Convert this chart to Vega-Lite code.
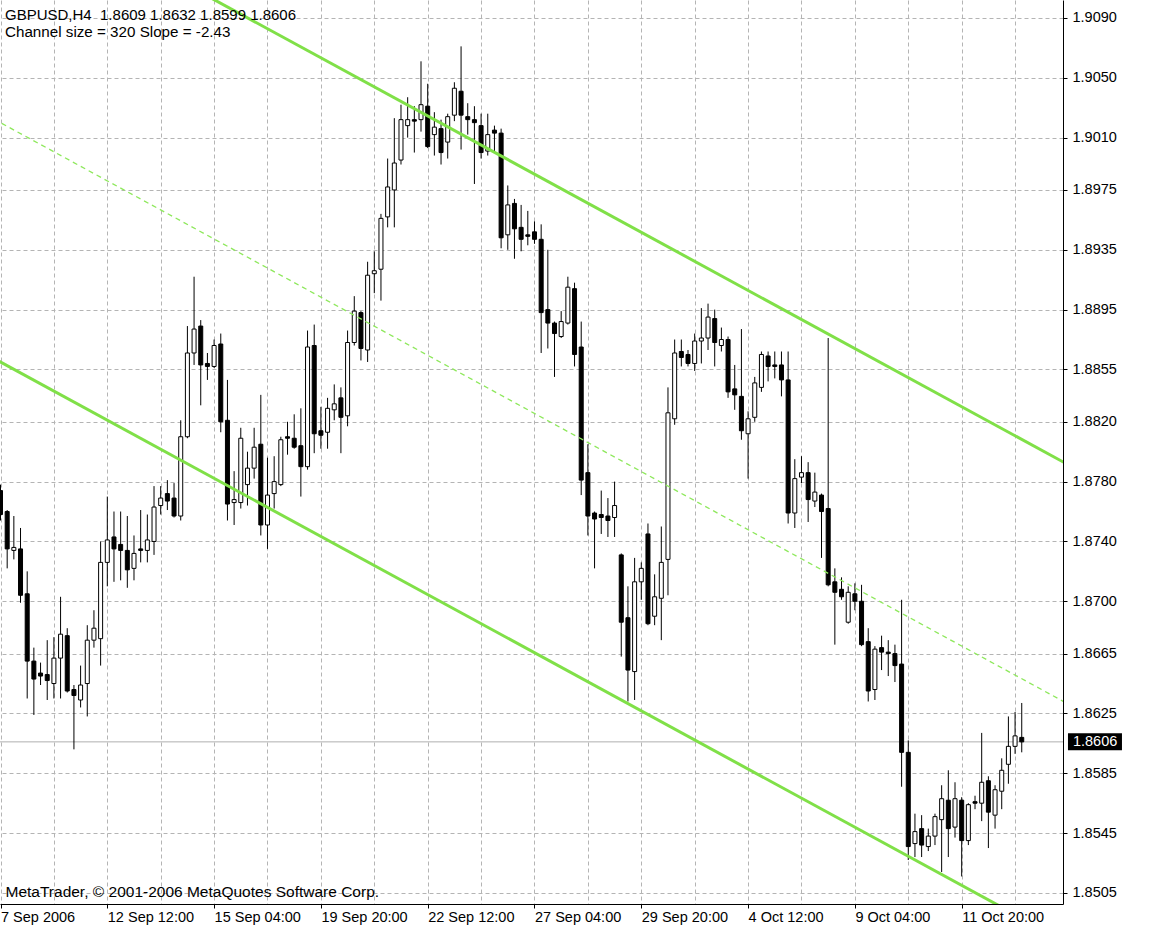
{
"$schema": "https://vega.github.io/schema/vega-lite/v6.json",
"width": 1063, "height": 904,
"autosize": {"type": "none"},
"padding": {"left": 0, "top": 0, "right": 98, "bottom": 42},
"background": "white",
"title": {"text": "GBPUSD,H4\u00a0 1.8609 1.8632 1.8599 1.8606", "subtitle": "Channel size = 320 Slope = -2.43", "anchor": "start", "frame": "group", "orient": "top", "offset": -40, "dx": 5, "font": "Liberation Sans", "fontSize": 15, "fontWeight": "normal", "color": "black", "subtitleFont": "Liberation Sans", "subtitleFontSize": 15.2, "subtitleColor": "black", "subtitlePadding": 1.5},
"datasets": {
"last": [{"price": 1.8606}],
"channel": [
{"line": "upper", "i": -1, "p": 1.91824}, {"line": "upper", "i": 160, "p": 1.87912},
{"line": "middle", "i": -1, "p": 1.90224}, {"line": "middle", "i": 160, "p": 1.86312},
{"line": "lower", "i": -1, "p": 1.88624}, {"line": "lower", "i": 160, "p": 1.84712}
],
"candles": [
{"i":0,"o":1.8774,"h":1.8778,"l":1.8754,"c":1.8758},
{"i":1,"o":1.8760,"h":1.8761,"l":1.8722,"c":1.8735},
{"i":2,"o":1.8734,"h":1.8757,"l":1.8728,"c":1.8736},
{"i":3,"o":1.8735,"h":1.8749,"l":1.8699,"c":1.8704},
{"i":4,"o":1.8705,"h":1.8720,"l":1.8635,"c":1.8660},
{"i":5,"o":1.8660,"h":1.8669,"l":1.8624,"c":1.8648},
{"i":6,"o":1.8652,"h":1.8659,"l":1.8644,"c":1.8650},
{"i":7,"o":1.8651,"h":1.8674,"l":1.8634,"c":1.8647},
{"i":8,"o":1.8645,"h":1.8676,"l":1.8635,"c":1.8662},
{"i":9,"o":1.8662,"h":1.8703,"l":1.8635,"c":1.8678},
{"i":10,"o":1.8677,"h":1.8682,"l":1.8639,"c":1.8640},
{"i":11,"o":1.8641,"h":1.8644,"l":1.8601,"c":1.8637},
{"i":12,"o":1.8634,"h":1.8657,"l":1.8629,"c":1.8644},
{"i":13,"o":1.8645,"h":1.8684,"l":1.8623,"c":1.8674},
{"i":14,"o":1.8674,"h":1.8694,"l":1.8669,"c":1.8682},
{"i":15,"o":1.8675,"h":1.8740,"l":1.8657,"c":1.8726},
{"i":16,"o":1.8726,"h":1.8770,"l":1.8710,"c":1.8741},
{"i":17,"o":1.8743,"h":1.8760,"l":1.8713,"c":1.8735},
{"i":18,"o":1.8738,"h":1.8760,"l":1.8714,"c":1.8734},
{"i":19,"o":1.8734,"h":1.8757,"l":1.8709,"c":1.8721},
{"i":20,"o":1.8722,"h":1.8744,"l":1.8714,"c":1.8732},
{"i":21,"o":1.8735,"h":1.8761,"l":1.8726,"c":1.8734},
{"i":22,"o":1.8734,"h":1.8758,"l":1.8726,"c":1.8741},
{"i":23,"o":1.8740,"h":1.8777,"l":1.8731,"c":1.8763},
{"i":24,"o":1.8764,"h":1.8777,"l":1.8758,"c":1.8769},
{"i":25,"o":1.8772,"h":1.8781,"l":1.8761,"c":1.8767},
{"i":26,"o":1.8769,"h":1.8779,"l":1.8756,"c":1.8757},
{"i":27,"o":1.8757,"h":1.8821,"l":1.8754,"c":1.8810},
{"i":28,"o":1.8810,"h":1.8884,"l":1.8809,"c":1.8866},
{"i":29,"o":1.8866,"h":1.8917,"l":1.8858,"c":1.8882},
{"i":30,"o":1.8884,"h":1.8888,"l":1.8831,"c":1.8858},
{"i":31,"o":1.8859,"h":1.8866,"l":1.8848,"c":1.8857},
{"i":32,"o":1.8857,"h":1.8875,"l":1.8856,"c":1.8871},
{"i":33,"o":1.8872,"h":1.8879,"l":1.8813,"c":1.8820},
{"i":34,"o":1.8821,"h":1.8848,"l":1.8754,"c":1.8765},
{"i":35,"o":1.8766,"h":1.8787,"l":1.8751,"c":1.8768},
{"i":36,"o":1.8766,"h":1.8816,"l":1.8762,"c":1.8809},
{"i":37,"o":1.8778,"h":1.8800,"l":1.8764,"c":1.8789},
{"i":38,"o":1.8789,"h":1.8816,"l":1.8782,"c":1.8803},
{"i":39,"o":1.8805,"h":1.8838,"l":1.8744,"c":1.8751},
{"i":40,"o":1.8751,"h":1.8796,"l":1.8735,"c":1.8771},
{"i":41,"o":1.8772,"h":1.8797,"l":1.8762,"c":1.8780},
{"i":42,"o":1.8778,"h":1.8810,"l":1.8777,"c":1.8808},
{"i":43,"o":1.8810,"h":1.8820,"l":1.8798,"c":1.8809},
{"i":44,"o":1.8809,"h":1.8825,"l":1.8802,"c":1.8803},
{"i":45,"o":1.8804,"h":1.8829,"l":1.8770,"c":1.8790},
{"i":46,"o":1.8790,"h":1.8881,"l":1.8788,"c":1.8870},
{"i":47,"o":1.8871,"h":1.8885,"l":1.8799,"c":1.8812},
{"i":48,"o":1.8814,"h":1.8830,"l":1.8802,"c":1.8811},
{"i":49,"o":1.8813,"h":1.8836,"l":1.8802,"c":1.8829},
{"i":50,"o":1.8828,"h":1.8845,"l":1.8821,"c":1.8832},
{"i":51,"o":1.8836,"h":1.8843,"l":1.8799,"c":1.8823},
{"i":52,"o":1.8824,"h":1.8881,"l":1.8817,"c":1.8873},
{"i":53,"o":1.8873,"h":1.8904,"l":1.8871,"c":1.8894},
{"i":54,"o":1.8893,"h":1.8894,"l":1.8861,"c":1.8869},
{"i":55,"o":1.8868,"h":1.8927,"l":1.8860,"c":1.8918},
{"i":56,"o":1.8919,"h":1.8934,"l":1.8906,"c":1.8921},
{"i":57,"o":1.8922,"h":1.8959,"l":1.8901,"c":1.8956},
{"i":58,"o":1.8957,"h":1.8996,"l":1.8950,"c":1.8977},
{"i":59,"o":1.8975,"h":1.9023,"l":1.8950,"c":1.8993},
{"i":60,"o":1.8995,"h":1.9032,"l":1.8992,"c":1.9022},
{"i":61,"o":1.9018,"h":1.9037,"l":1.9010,"c":1.9022},
{"i":62,"o":1.9022,"h":1.9031,"l":1.9000,"c":1.9021},
{"i":63,"o":1.9022,"h":1.9061,"l":1.9014,"c":1.9032},
{"i":64,"o":1.9031,"h":1.9046,"l":1.9003,"c":1.9004},
{"i":65,"o":1.9012,"h":1.9027,"l":1.8998,"c":1.9017},
{"i":66,"o":1.9016,"h":1.9022,"l":1.8992,"c":1.9000},
{"i":67,"o":1.9007,"h":1.9026,"l":1.8996,"c":1.9024},
{"i":68,"o":1.9025,"h":1.9047,"l":1.9021,"c":1.9043},
{"i":69,"o":1.9041,"h":1.9071,"l":1.9002,"c":1.9025},
{"i":70,"o":1.9024,"h":1.9033,"l":1.9012,"c":1.9022},
{"i":71,"o":1.9022,"h":1.9031,"l":1.8979,"c":1.9020},
{"i":72,"o":1.9018,"h":1.9026,"l":1.8996,"c":1.9000},
{"i":73,"o":1.9001,"h":1.9026,"l":1.8998,"c":1.9012},
{"i":74,"o":1.9015,"h":1.9018,"l":1.9001,"c":1.9013},
{"i":75,"o":1.9013,"h":1.9016,"l":1.8936,"c":1.8943},
{"i":76,"o":1.8945,"h":1.8978,"l":1.8935,"c":1.8965},
{"i":77,"o":1.8966,"h":1.8969,"l":1.8929,"c":1.8949},
{"i":78,"o":1.8950,"h":1.8965,"l":1.8934,"c":1.8942},
{"i":79,"o":1.8945,"h":1.8961,"l":1.8938,"c":1.8944},
{"i":80,"o":1.8947,"h":1.8954,"l":1.8939,"c":1.8942},
{"i":81,"o":1.8942,"h":1.8952,"l":1.8866,"c":1.8893},
{"i":82,"o":1.8895,"h":1.8935,"l":1.8869,"c":1.8886},
{"i":83,"o":1.8886,"h":1.8887,"l":1.8850,"c":1.8879},
{"i":84,"o":1.8877,"h":1.8894,"l":1.8876,"c":1.8887},
{"i":85,"o":1.8886,"h":1.8917,"l":1.8885,"c":1.8910},
{"i":86,"o":1.8909,"h":1.8913,"l":1.8857,"c":1.8865},
{"i":87,"o":1.8870,"h":1.8887,"l":1.8771,"c":1.8781},
{"i":88,"o":1.8786,"h":1.8805,"l":1.8744,"c":1.8757},
{"i":89,"o":1.8759,"h":1.8760,"l":1.8722,"c":1.8755},
{"i":90,"o":1.8758,"h":1.8774,"l":1.8745,"c":1.8756},
{"i":91,"o":1.8757,"h":1.8769,"l":1.8743,"c":1.8754},
{"i":92,"o":1.8756,"h":1.8780,"l":1.8743,"c":1.8764},
{"i":93,"o":1.8731,"h":1.8732,"l":1.8663,"c":1.8686},
{"i":94,"o":1.8689,"h":1.8710,"l":1.8633,"c":1.8654},
{"i":95,"o":1.8653,"h":1.8729,"l":1.8634,"c":1.8713},
{"i":96,"o":1.8713,"h":1.8726,"l":1.8701,"c":1.8722},
{"i":97,"o":1.8745,"h":1.8752,"l":1.8684,"c":1.8685},
{"i":98,"o":1.8690,"h":1.8718,"l":1.8684,"c":1.8703},
{"i":99,"o":1.8702,"h":1.8750,"l":1.8674,"c":1.8726},
{"i":100,"o":1.8728,"h":1.8843,"l":1.8704,"c":1.8826},
{"i":101,"o":1.8822,"h":1.8875,"l":1.8818,"c":1.8866},
{"i":102,"o":1.8867,"h":1.8875,"l":1.8857,"c":1.8863},
{"i":103,"o":1.8865,"h":1.8868,"l":1.8857,"c":1.8859},
{"i":104,"o":1.8859,"h":1.8879,"l":1.8854,"c":1.8874},
{"i":105,"o":1.8874,"h":1.8896,"l":1.8859,"c":1.8876},
{"i":106,"o":1.8876,"h":1.8899,"l":1.8868,"c":1.8890},
{"i":107,"o":1.8889,"h":1.8895,"l":1.8857,"c":1.8873},
{"i":108,"o":1.8871,"h":1.8883,"l":1.8867,"c":1.8875},
{"i":109,"o":1.8875,"h":1.8877,"l":1.8836,"c":1.8840},
{"i":110,"o":1.8842,"h":1.8858,"l":1.8828,"c":1.8838},
{"i":111,"o":1.8837,"h":1.8882,"l":1.8808,"c":1.8814},
{"i":112,"o":1.8812,"h":1.8827,"l":1.8782,"c":1.8822},
{"i":113,"o":1.8823,"h":1.8850,"l":1.8820,"c":1.8846},
{"i":114,"o":1.8843,"h":1.8867,"l":1.8840,"c":1.8865},
{"i":115,"o":1.8864,"h":1.8867,"l":1.8847,"c":1.8857},
{"i":116,"o":1.8858,"h":1.8867,"l":1.8849,"c":1.8857},
{"i":117,"o":1.8858,"h":1.8867,"l":1.8837,"c":1.8848},
{"i":118,"o":1.8848,"h":1.8867,"l":1.8752,"c":1.8759},
{"i":119,"o":1.8759,"h":1.8795,"l":1.8749,"c":1.8782},
{"i":120,"o":1.8783,"h":1.8797,"l":1.8779,"c":1.8786},
{"i":121,"o":1.8786,"h":1.8793,"l":1.8753,"c":1.8768},
{"i":122,"o":1.8767,"h":1.8786,"l":1.8763,"c":1.8773},
{"i":123,"o":1.8771,"h":1.8772,"l":1.8729,"c":1.8760},
{"i":124,"o":1.8762,"h":1.8876,"l":1.8710,"c":1.8711},
{"i":125,"o":1.8713,"h":1.8722,"l":1.8671,"c":1.8706},
{"i":126,"o":1.8708,"h":1.8716,"l":1.8701,"c":1.8703},
{"i":127,"o":1.8686,"h":1.8710,"l":1.8685,"c":1.8706},
{"i":128,"o":1.8705,"h":1.8712,"l":1.8694,"c":1.8700},
{"i":129,"o":1.8700,"h":1.8711,"l":1.8670,"c":1.8671},
{"i":130,"o":1.8673,"h":1.8682,"l":1.8633,"c":1.8640},
{"i":131,"o":1.8641,"h":1.8670,"l":1.8634,"c":1.8668},
{"i":132,"o":1.8669,"h":1.8677,"l":1.8654,"c":1.8666},
{"i":133,"o":1.8666,"h":1.8674,"l":1.8650,"c":1.8665},
{"i":134,"o":1.8665,"h":1.8671,"l":1.8646,"c":1.8657},
{"i":135,"o":1.8658,"h":1.8701,"l":1.8576,"c":1.8599},
{"i":136,"o":1.8599,"h":1.8607,"l":1.8527,"c":1.8536},
{"i":137,"o":1.8538,"h":1.8558,"l":1.8529,"c":1.8546},
{"i":138,"o":1.8548,"h":1.8557,"l":1.8529,"c":1.8537},
{"i":139,"o":1.8536,"h":1.8548,"l":1.8533,"c":1.8543},
{"i":140,"o":1.8543,"h":1.8558,"l":1.8537,"c":1.8556},
{"i":141,"o":1.8554,"h":1.8577,"l":1.8519,"c":1.8568},
{"i":142,"o":1.8567,"h":1.8587,"l":1.8529,"c":1.8548},
{"i":143,"o":1.8549,"h":1.8579,"l":1.8542,"c":1.8568},
{"i":144,"o":1.8567,"h":1.8569,"l":1.8516,"c":1.8540},
{"i":145,"o":1.8540,"h":1.8565,"l":1.8537,"c":1.8564},
{"i":146,"o":1.8566,"h":1.8570,"l":1.8561,"c":1.8565},
{"i":147,"o":1.8565,"h":1.8612,"l":1.8553,"c":1.8579},
{"i":148,"o":1.8580,"h":1.8583,"l":1.8535,"c":1.8559},
{"i":149,"o":1.8557,"h":1.8577,"l":1.8548,"c":1.8574},
{"i":150,"o":1.8573,"h":1.8595,"l":1.8561,"c":1.8587},
{"i":151,"o":1.8591,"h":1.8623,"l":1.8578,"c":1.8603},
{"i":152,"o":1.8603,"h":1.8626,"l":1.8598,"c":1.8610},
{"i":153,"o":1.8609,"h":1.8632,"l":1.8599,"c":1.8606}
]
},
"layer": [
{"data": {"name": "last"},
 "mark": {"type": "rule", "color": "#b0b0b0", "strokeWidth": 1},
 "encoding": {"y": {"field": "price", "type": "quantitative", "scale": {"domain": [1.84976, 1.91020], "nice": false, "zero": false, "padding": 0}}}},
{"data": {"name": "candles"},
 "mark": {"type": "rule", "color": "black", "strokeWidth": 1},
 "encoding": {
  "x": {"field": "i", "type": "quantitative", "scale": {"domain": [-0.075, 159.18], "nice": false, "zero": false, "padding": 0},
   "axis": {"values": [0,8,16,24,32,40,48,56,64,72,80,88,96,104,112,120,128,136,144,152],
    "labelExpr": "datum.value % 16 === 0 ? ['7 Sep 2006','12 Sep 12:00','15 Sep 04:00','19 Sep 20:00','22 Sep 12:00','27 Sep 04:00','29 Sep 20:00','4 Oct 12:00','9 Oct 04:00','11 Oct 20:00'][datum.value / 16] : ''",
    "labelAlign": "left", "labelBaseline": "top", "labelPadding": 2, "labelOverlap": false, "labelFlush": false,
    "tickSize": 4, "tickColor": "black", "tickOpacity": {"condition": {"test": "datum.value % 16 === 0", "value": 1}, "value": 0},
    "grid": true, "gridDash": [4, 3], "gridColor": "#b4b4b4", "gridWidth": 1,
    "domainColor": "black", "domainWidth": 1,
    "title": "MetaTrader, © 2001-2006 MetaQuotes Software Corp.", "titleX": 5, "titleY": -8, "titleAlign": "left", "titleBaseline": "alphabetic",
    "titleFont": "Liberation Sans", "titleFontSize": 15.5, "titleFontWeight": "normal", "titleColor": "black"}},
  "y": {"field": "l", "type": "quantitative", "scale": {"domain": [1.84976, 1.91020], "nice": false, "zero": false, "padding": 0},
   "axis": {"orient": "right", "values": [1.9090,1.9050,1.9010,1.8975,1.8935,1.8895,1.8855,1.8820,1.8780,1.8740,1.8700,1.8665,1.8625,1.8585,1.8545,1.8505],
    "format": ".4f", "labelAlign": "left", "labelBaseline": "middle", "labelPadding": 5, "labelOverlap": false, "labelFlush": false,
    "tickSize": 4, "tickColor": "black", "grid": true, "gridDash": [4, 3], "gridColor": "#b4b4b4", "gridWidth": 1,
    "domainColor": "black", "domainWidth": 1, "title": null}},
  "y2": {"field": "h"}}},
{"data": {"name": "candles"},
 "mark": {"type": "bar", "width": 4, "stroke": "black", "strokeWidth": 1},
 "encoding": {
  "x": {"field": "i", "type": "quantitative", "scale": {"domain": [-0.075, 159.18], "nice": false, "zero": false, "padding": 0}},
  "y": {"field": "o", "type": "quantitative", "scale": {"domain": [1.84976, 1.91020], "nice": false, "zero": false, "padding": 0}},
  "y2": {"field": "c"},
  "fill": {"condition": {"test": "datum.c < datum.o", "value": "black"}, "value": "white"}}},
{"data": {"name": "channel"},
 "transform": [{"filter": "datum.line !== 'middle'"}],
 "mark": {"type": "line", "color": "#80e048", "strokeWidth": 3, "clip": true},
 "encoding": {
  "x": {"field": "i", "type": "quantitative", "scale": {"domain": [-0.075, 159.18], "nice": false, "zero": false, "padding": 0}},
  "y": {"field": "p", "type": "quantitative", "scale": {"domain": [1.84976, 1.91020], "nice": false, "zero": false, "padding": 0}},
  "detail": {"field": "line"}}},
{"data": {"name": "channel"},
 "transform": [{"filter": "datum.line === 'middle'"}],
 "mark": {"type": "line", "color": "#8ee85c", "strokeWidth": 1.3, "strokeDash": [5, 4], "clip": true},
 "encoding": {
  "x": {"field": "i", "type": "quantitative", "scale": {"domain": [-0.075, 159.18], "nice": false, "zero": false, "padding": 0}},
  "y": {"field": "p", "type": "quantitative", "scale": {"domain": [1.84976, 1.91020], "nice": false, "zero": false, "padding": 0}}}},
{"data": {"name": "last"},
 "mark": {"type": "tick", "orient": "horizontal", "size": 54, "thickness": 17, "color": "black", "opacity": 1},
 "encoding": {
  "x": {"datum": 163.97, "type": "quantitative", "scale": {"domain": [-0.075, 159.18], "nice": false, "zero": false, "padding": 0}},
  "y": {"field": "price", "type": "quantitative", "scale": {"domain": [1.84976, 1.91020], "nice": false, "zero": false, "padding": 0}}}},
{"data": {"name": "last"},
 "mark": {"type": "text", "align": "left", "baseline": "middle", "color": "white", "font": "Liberation Sans", "fontSize": 14.5},
 "encoding": {
  "x": {"datum": 160.67, "type": "quantitative", "scale": {"domain": [-0.075, 159.18], "nice": false, "zero": false, "padding": 0}},
  "y": {"field": "price", "type": "quantitative", "scale": {"domain": [1.84976, 1.91020], "nice": false, "zero": false, "padding": 0}},
  "text": {"field": "price", "type": "quantitative", "format": ".4f"}}}
],
"config": {
 "view": {"stroke": null},
 "axis": {"labelFont": "Liberation Sans", "labelFontSize": 14.5, "labelColor": "black"}
}
}
